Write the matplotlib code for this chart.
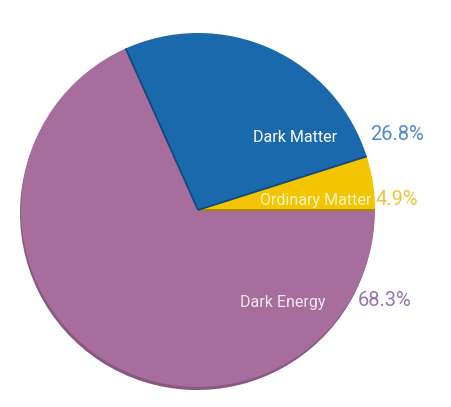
import numpy as np
import matplotlib.pyplot as plt

# 우주 구성 비율 (%)
labels = ["Ordinary Matter", "Dark Matter", "Dark Energy"]
shares = [4.9, 26.8, 68.3]
pct_text = ["4.9%", "26.8%", "68.3%"]

fill_colors = ["#f2c500", "#1b69ad", "#a76d9c"]
pct_colors = ["#f0c43a", "#4f8ac6", "#9b73b0"]

W, H = 452, 407
cx, cy, r = 198, 197, 177

fig = plt.figure(figsize=(W / 100, H / 100), dpi=100)
ax = fig.add_axes([0, 0, 1, 1])

# 그림자 (약간 아래쪽으로 밀린 어두운 원판)
ax.pie(shares, colors=["#875880"] * 3, startangle=0,
       center=(cx - 1, cy - 3), radius=r, frame=True)

wedges, _ = ax.pie(shares, colors=fill_colors, startangle=0,
                   center=(cx, cy), radius=r, frame=True,
                   wedgeprops=dict(linewidth=0))

# 슬라이스 경계선 (반지름 방향만)
bounds = np.cumsum([0] + shares) / 100 * 2 * np.pi
for ang, col in [(bounds[0], "#a88700"), (bounds[1], "#0f4a80"), (bounds[2], "#0f4a80")]:
    ax.plot([cx, cx + r * np.cos(ang)], [cy, cy + r * np.sin(ang)],
            color=col, lw=1.3, solid_capstyle="butt")

ax.set_xlim(0, W)
ax.set_ylim(0, H)
ax.set_aspect("equal")
ax.axis("off")

font = "Roboto"
# 슬라이스 안쪽 라벨 (오른쪽 끝 정렬)
ax.text(337, H - 137, labels[1], color="white", fontsize=11.5,
        ha="right", va="center", family=font)
ax.text(371, H - 201, labels[0], color="#fff4c8", fontsize=11.5,
        ha="right", va="center", family=font)
ax.text(326, H - 302, labels[2], color="#f3e6f0", fontsize=11.5,
        ha="right", va="center", family=font)

# 바깥쪽 퍼센트
ax.text(370, H - 135, pct_text[1], color=pct_colors[1], fontsize=14.5,
        ha="left", va="center", family=font)
ax.text(376, H - 200, pct_text[0], color=pct_colors[0], fontsize=14.5,
        ha="left", va="center", family=font)
ax.text(358, H - 300, pct_text[2], color=pct_colors[2], fontsize=14.5,
        ha="left", va="center", family=font)

fig.savefig("out.png", dpi=100)
